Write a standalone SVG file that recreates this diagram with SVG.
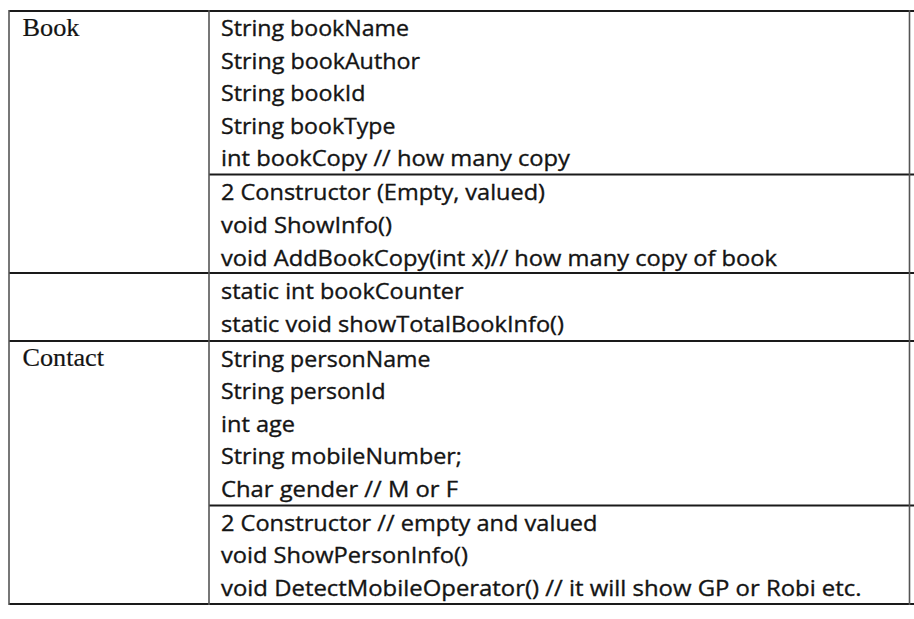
<svg xmlns="http://www.w3.org/2000/svg" width="914" height="619" viewBox="0 0 914 619">
<style>
.h{stroke:#1a1a1a;stroke-width:2;fill:none}
.v{stroke:#555;stroke-width:1.6;fill:none}
.t{font-family:"Open Sans","Liberation Sans",sans-serif;font-size:22px;fill:#141414;stroke:#141414;stroke-width:0.35}
.s{font-family:"Liberation Serif","Times New Roman",serif;font-size:25.5px;fill:#141414;stroke:#141414;stroke-width:0.2}
</style>
<rect width="914" height="619" fill="#fff"/>
<g id="grid">
<line class="h" x1="9" y1="11" x2="914" y2="11"/>
<line class="h" x1="209" y1="174.5" x2="914" y2="174.5"/>
<line class="h" x1="9" y1="273" x2="914" y2="273"/>
<line class="h" x1="9" y1="341" x2="914" y2="341"/>
<line class="h" x1="209" y1="505.5" x2="914" y2="505.5"/>
<line class="h" x1="9" y1="604" x2="914" y2="604"/>
<line class="v" x1="9" y1="10" x2="9" y2="605"/>
<line class="v" x1="209" y1="10" x2="209" y2="605"/>
<line class="v" x1="909.5" y1="10" x2="909.5" y2="605"/>
</g>
<g id="book">
<text class="s" x="22.5" y="36" textLength="57" lengthAdjust="spacingAndGlyphs">Book</text>
<text class="t" x="221" y="36" textLength="188" lengthAdjust="spacingAndGlyphs">String bookName</text>
<text class="t" x="221" y="68.6" textLength="199" lengthAdjust="spacingAndGlyphs">String bookAuthor</text>
<text class="t" x="221" y="101.2" textLength="144.5" lengthAdjust="spacingAndGlyphs">String bookId</text>
<text class="t" x="221" y="133.8" textLength="174.5" lengthAdjust="spacingAndGlyphs">String bookType</text>
<text class="t" x="221" y="166.4" textLength="349" lengthAdjust="spacingAndGlyphs">int bookCopy // how many copy</text>
<text class="t" x="221" y="200" textLength="324" lengthAdjust="spacingAndGlyphs">2 Constructor (Empty, valued)</text>
<text class="t" x="221" y="233" textLength="171" lengthAdjust="spacingAndGlyphs">void ShowInfo()</text>
<text class="t" x="221" y="266" textLength="556" lengthAdjust="spacingAndGlyphs">void AddBookCopy(int x)// how many copy of book</text>
<text class="t" x="221" y="298.5" textLength="242.5" lengthAdjust="spacingAndGlyphs">static int bookCounter</text>
<text class="t" x="221" y="331.5" textLength="343" lengthAdjust="spacingAndGlyphs">static void showTotalBookInfo()</text>
</g>
<g id="contact">
<text class="s" x="22.5" y="366" textLength="81.5" lengthAdjust="spacingAndGlyphs">Contact</text>
<text class="t" x="221" y="366.5" textLength="209.5" lengthAdjust="spacingAndGlyphs">String personName</text>
<text class="t" x="221" y="399" textLength="164.5" lengthAdjust="spacingAndGlyphs">String personId</text>
<text class="t" x="221" y="431.5" textLength="74" lengthAdjust="spacingAndGlyphs">int age</text>
<text class="t" x="221" y="464" textLength="241" lengthAdjust="spacingAndGlyphs">String mobileNumber;</text>
<text class="t" x="221" y="496.5" textLength="237" lengthAdjust="spacingAndGlyphs">Char gender // M or F</text>
<text class="t" x="221" y="530.5" textLength="376.5" lengthAdjust="spacingAndGlyphs">2 Constructor // empty and valued</text>
<text class="t" x="221" y="563" textLength="247" lengthAdjust="spacingAndGlyphs">void ShowPersonInfo()</text>
<text class="t" x="221" y="595.5" textLength="640.5" lengthAdjust="spacingAndGlyphs">void DetectMobileOperator() // it will show GP or Robi etc.</text>
</g>
</svg>
